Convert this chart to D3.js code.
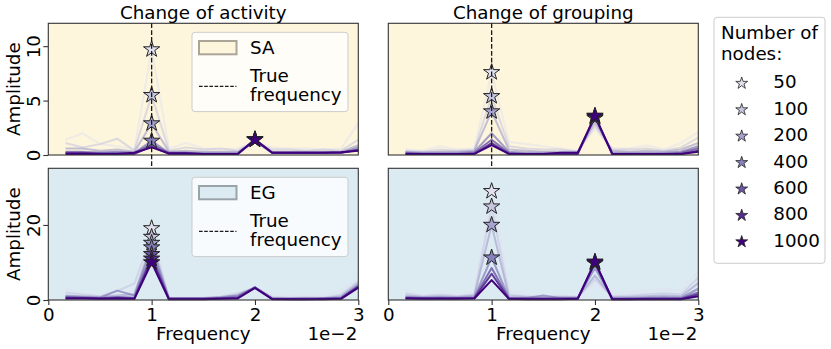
<!DOCTYPE html>
<html>
<head>
<meta charset="utf-8">
<script src="https://cdn.jsdelivr.net/npm/d3@7"></script>
<style>
  body { margin: 0; background: #fff; }
  svg { font-family: "DejaVu Sans", sans-serif; }
</style>
</head>
<body>
<svg id="svg" width="831" height="349"></svg>
<script>
// frequencies are in units of 1e-2
var freqs = [0.167, 0.333, 0.5, 0.667, 0.833, 1.0, 1.167, 1.333, 1.5, 1.667, 1.833, 2.0, 2.167, 2.333, 2.5, 2.667, 2.833, 3.0];
var nodes = [50, 100, 200, 400, 600, 800, 1000];
var xTicks = [0, 1, 2, 3];
var yTicksSA = [0, 5, 10];
var yTicksEG = [0, 20];
var yMaxSA = 12.1;
var yMaxEG = 35.1;
var trueFreq = 1;
var titles = ["Change of activity", "Change of grouping"];
var groupNames = ["SA", "EG"];

var saActivity = [
  [1.4, 2.0, 1.0, 0.8, 0.5, 9.7, 0.6, 1.1, 0.6, 0.5, 0.6, 1.2, 0.7, 0.6, 0.6, 0.5, 0.6, 2.9],
  [1.1, 0.7, 1.0, 1.5, 0.4, 5.5, 0.4, 0.7, 0.5, 0.6, 0.4, 1.2, 0.5, 0.5, 0.4, 0.5, 0.4, 1.4],
  [0.6, 0.6, 0.4, 0.5, 0.3, 2.9, 0.3, 0.4, 0.3, 0.3, 0.3, 1.25, 0.3, 0.3, 0.3, 0.3, 0.3, 0.9],
  [0.3, 0.3, 0.2, 0.3, 0.2, 1.3, 0.2, 0.2, 0.2, 0.2, 0.2, 1.25, 0.2, 0.2, 0.2, 0.2, 0.2, 0.7],
  [0.2, 0.2, 0.2, 0.2, 0.2, 1.0, 0.2, 0.2, 0.1, 0.1, 0.1, 1.4, 0.2, 0.2, 0.2, 0.2, 0.2, 0.5],
  [0.2, 0.2, 0.1, 0.1, 0.1, 0.8, 0.1, 0.1, 0.1, 0.1, 0.1, 1.45, 0.2, 0.2, 0.2, 0.2, 0.2, 0.45],
  [0.1, 0.1, 0.1, 0.1, 0.2, 0.7, 0.15, 0.15, 0.1, 0.1, 0.1, 1.4, 0.2, 0.2, 0.2, 0.2, 0.25, 0.4]
];
var saGrouping = [
  [0.5, 0.4, 0.8, 0.5, 0.6, 7.6, 1.2, 1.0, 0.8, 0.6, 0.4, 2.4, 0.6, 0.6, 0.9, 0.5, 1.1, 2.1],
  [0.4, 0.3, 0.5, 0.4, 0.5, 5.4, 0.8, 0.6, 0.5, 0.5, 0.3, 2.7, 0.5, 0.5, 0.6, 0.4, 0.7, 1.6],
  [0.3, 0.2, 0.3, 0.3, 0.4, 4.0, 0.5, 0.4, 0.3, 0.3, 0.3, 3.0, 0.4, 0.3, 0.4, 0.3, 0.5, 1.1],
  [0.2, 0.2, 0.2, 0.2, 0.3, 2.0, 0.3, 0.2, 0.2, 0.2, 0.2, 3.4, 0.2, 0.2, 0.2, 0.2, 0.3, 0.8],
  [0.2, 0.1, 0.1, 0.1, 0.2, 1.4, 0.2, 0.1, 0.1, 0.1, 0.1, 3.5, 0.1, 0.1, 0.1, 0.1, 0.2, 0.6],
  [0.1, 0.1, 0.1, 0.1, 0.1, 1.1, 0.1, 0.1, 0.1, 0.1, 0.1, 3.55, 0.1, 0.1, 0.1, 0.1, 0.1, 0.4],
  [0.1, 0.1, 0.1, 0.1, 0.1, 0.9, 0.1, 0.1, 0.1, 0.2, 0.2, 3.6, 0.1, 0.1, 0.1, 0.1, 0.1, 0.3]
];
var egActivity = [
  [3.0, 1.8, 1.0, 1.5, 2.6, 19.1, 0.8, 0.6, 0.6, 1.0, 1.5, 3.0, 1.5, 1.0, 1.2, 1.0, 2.5, 5.8],
  [2.0, 1.5, 1.0, 2.4, 4.4, 16.8, 0.6, 0.5, 0.6, 0.9, 1.8, 3.2, 0.8, 0.6, 0.7, 0.6, 1.5, 5.0],
  [1.2, 1.0, 0.8, 1.2, 1.5, 15.2, 0.5, 0.5, 0.5, 0.8, 1.3, 3.3, 0.5, 0.4, 0.5, 0.5, 1.0, 4.5],
  [1.0, 0.8, 0.6, 2.5, 1.2, 14.0, 0.4, 0.4, 0.4, 0.7, 1.2, 3.3, 0.4, 0.3, 0.4, 0.4, 0.7, 4.0],
  [0.8, 0.6, 0.5, 0.8, 0.6, 12.2, 0.3, 0.3, 0.3, 0.5, 0.8, 3.4, 0.3, 0.3, 0.3, 0.3, 0.5, 3.7],
  [0.5, 0.5, 0.4, 0.5, 0.4, 11.0, 0.3, 0.3, 0.3, 0.4, 0.6, 3.3, 0.3, 0.2, 0.2, 0.3, 0.4, 3.5],
  [0.4, 0.4, 0.3, 0.4, 0.3, 10.0, 0.2, 0.2, 0.2, 0.3, 0.4, 3.2, 0.2, 0.2, 0.2, 0.2, 0.3, 3.3]
];
var egGrouping = [
  [2.7, 1.2, 2.4, 1.3, 2.0, 29.0, 2.5, 1.5, 1.0, 1.2, 1.0, 4.5, 1.5, 2.0, 2.5, 2.9, 2.5, 7.5],
  [1.8, 1.0, 1.5, 1.0, 1.5, 24.9, 1.5, 1.0, 0.8, 1.0, 0.8, 5.5, 1.0, 1.2, 1.5, 1.8, 1.5, 6.0],
  [1.2, 0.8, 1.0, 0.8, 1.2, 20.0, 1.0, 0.8, 0.6, 0.8, 0.7, 6.5, 0.7, 0.8, 1.0, 1.2, 1.0, 4.5],
  [0.8, 0.6, 0.7, 0.6, 0.8, 11.3, 0.6, 0.5, 1.2, 0.5, 0.5, 8.5, 0.4, 0.5, 0.6, 0.7, 0.6, 3.0],
  [0.6, 0.5, 0.5, 0.5, 0.6, 8.5, 0.4, 0.4, 0.4, 0.4, 0.4, 9.8, 0.3, 0.3, 0.4, 0.4, 0.4, 2.0],
  [0.5, 0.4, 0.4, 0.4, 0.5, 7.0, 0.3, 0.3, 0.3, 0.3, 0.3, 10.0, 0.2, 0.2, 0.3, 0.3, 0.3, 1.5],
  [0.4, 0.3, 0.3, 0.3, 0.4, 5.3, 0.3, 0.2, 0.2, 0.2, 0.3, 10.2, 0.2, 0.2, 0.2, 0.2, 0.2, 1.0]
];

var svg = d3.select("#svg");
var fontSize = 18.3;
var panelW = 310, panelH = 131.7;
var colX = [48.3, 388.3];
var rowY = [23.3, 168.3];
var bgColors = ["#fdf5dc", "#dceaf2"];
var patchEdge = ["#aba597", "#9aa3a8"];

var colors = nodes.map(function (d, i) {
  return d3.interpolatePurples(0.2 + (0.8 * i) / (nodes.length - 1));
});
var opac = nodes.map(function (d, i) {
  return 0.5 + (0.5 * i) / (nodes.length - 1);
});

var panels = [
  { data: saActivity, row: 0, col: 0 },
  { data: saGrouping, row: 0, col: 1 },
  { data: egActivity, row: 1, col: 0 },
  { data: egGrouping, row: 1, col: 1 }
];

var xScale = d3.scaleLinear().domain([0, 3]).range([0, panelW]);
var yScales = [
  d3.scaleLinear().domain([0, yMaxSA]).range([panelH, 0]),
  d3.scaleLinear().domain([0, yMaxEG]).range([panelH, 0])
];
var yTicks = [yTicksSA, yTicksEG];
var star = d3.symbol().type(d3.symbolStar);

panels.forEach(function (p) {
  var yScale = yScales[p.row];
  var g = svg
    .append("g")
    .attr("transform", "translate(" + colX[p.col] + "," + rowY[p.row] + ")");

  g.append("rect")
    .attr("width", panelW)
    .attr("height", panelH)
    .attr("fill", bgColors[p.row]);

  var line = d3
    .line()
    .x(function (d, i) { return xScale(freqs[i]); })
    .y(function (d) { return yScale(d); });

  //lines
  g.selectAll("path.series")
    .data(p.data)
    .enter()
    .append("path")
    .attr("class", "series")
    .attr("d", line)
    .attr("fill", "none")
    .attr("stroke", function (d, i) { return colors[i]; })
    .attr("stroke-opacity", function (d, i) { return opac[i]; })
    .attr("stroke-width", 2)
    .attr("stroke-linejoin", "round");

  //true frequency (dashed), one per column spanning both rows
  if (p.row === 0) {
    svg
      .append("line")
      .attr("x1", colX[p.col] + xScale(trueFreq))
      .attr("x2", colX[p.col] + xScale(trueFreq))
      .attr("y1", rowY[0])
      .attr("y2", rowY[1] + panelH)
      .attr("stroke", "#1a1a1a")
      .attr("stroke-width", 1.3)
      .attr("stroke-dasharray", "4.8,2.1");
  }

  //stars at the maximum of each series
  g.selectAll("path.star")
    .data(p.data)
    .enter()
    .append("path")
    .attr("class", "star")
    .attr("d", star.size(82))
    .attr("transform", function (d) {
      var k = d3.maxIndex(d);
      return "translate(" + xScale(freqs[k]) + "," + yScale(d[k]) + ")";
    })
    .attr("fill", function (d, i) { return colors[i]; })
    .attr("stroke", "#222")
    .attr("stroke-width", 1);

  //frame
  g.append("rect")
    .attr("width", panelW)
    .attr("height", panelH)
    .attr("fill", "none")
    .attr("stroke", "#333")
    .attr("stroke-width", 1.1);

  //x-axis
  if (p.row === 1) {
    var xAxis = g
      .append("g")
      .attr("transform", "translate(0," + panelH + ")")
      .call(d3.axisBottom(xScale).tickValues(xTicks).tickFormat(d3.format("d")).tickSize(5).tickPadding(3));
    xAxis.select(".domain").remove();
    xAxis.selectAll("line").attr("stroke", "#333").attr("stroke-width", 1.1);
    xAxis.selectAll("text").attr("font-size", fontSize).attr("fill", "#000").attr("font-family", "DejaVu Sans");

    g.append("text")
      .attr("x", panelW / 2)
      .attr("y", panelH + 40)
      .attr("text-anchor", "middle")
      .attr("font-size", fontSize)
      .text("Frequency");
    g.append("text")
      .attr("x", panelW - 1)
      .attr("y", panelH + 40)
      .attr("text-anchor", "end")
      .attr("font-size", fontSize)
      .text("1e\u22122");
  }

  //y-axis
  if (p.col === 0) {
    var yAxis = g
      .append("g")
      .call(d3.axisLeft(yScale).tickValues(yTicks[p.row]).tickSize(5));
    yAxis.select(".domain").remove();
    yAxis.selectAll("line").attr("stroke", "#333").attr("stroke-width", 1.1);
    yAxis
      .selectAll("text")
      .attr("font-size", fontSize)
      .attr("fill", "#000")
      .attr("font-family", "DejaVu Sans")
      .attr("x", null)
      .attr("dy", null)
      .attr("text-anchor", "middle")
      .attr("transform", "translate(-8.3,0) rotate(-90)");

    g.append("text")
      .attr("transform", "translate(" + (19.8 - colX[0]) + "," + panelH / 2 + ") rotate(-90)")
      .attr("text-anchor", "middle")
      .attr("font-size", fontSize)
      .text("Amplitude");
  }

  //title
  if (p.row === 0) {
    svg
      .append("text")
      .attr("x", colX[p.col] + panelW / 2)
      .attr("y", 18.5)
      .attr("text-anchor", "middle")
      .attr("font-size", fontSize)
      .text(titles[p.col]);
  }

  //group legend (SA / EG)
  if (p.col === 0) {
    var lg = g.append("g").attr("transform", "translate(143.7,9)");
    lg.append("rect")
      .attr("width", 156)
      .attr("height", 79.3)
      .attr("rx", 3)
      .attr("fill", "#fff")
      .attr("fill-opacity", 0.8)
      .attr("stroke", "#ccc")
      .attr("stroke-width", 1);
    lg.append("rect")
      .attr("x", 7)
      .attr("y", 8.7)
      .attr("width", 37.5)
      .attr("height", 13.3)
      .attr("fill", bgColors[p.row])
      .attr("stroke", patchEdge[p.row])
      .attr("stroke-width", 2);
    lg.append("text")
      .attr("x", 58)
      .attr("y", 21.8)
      .attr("font-size", fontSize)
      .text(groupNames[p.row]);
    lg.append("line")
      .attr("x1", 7)
      .attr("x2", 44.5)
      .attr("y1", 54)
      .attr("y2", 54)
      .attr("stroke", "#1a1a1a")
      .attr("stroke-width", 1.2)
      .attr("stroke-dasharray", "3.6,1.6");
    lg.append("text")
      .attr("x", 58)
      .attr("y", 49.3)
      .attr("font-size", fontSize)
      .text("True");
    lg.append("text")
      .attr("x", 58)
      .attr("y", 68.5)
      .attr("font-size", fontSize)
      .text("frequency");
  }
});

//nodes legend
var nl = svg.append("g").attr("transform", "translate(714,17.3)");
nl.append("rect")
  .attr("width", 111)
  .attr("height", 246)
  .attr("rx", 3)
  .attr("fill", "#fff")
  .attr("stroke", "#ccc")
  .attr("stroke-width", 1);
nl.append("text").attr("x", 7).attr("y", 22).attr("font-size", fontSize).text("Number of");
nl.append("text").attr("x", 7).attr("y", 43).attr("font-size", fontSize).text("nodes:");

var rowScale = d3.scalePoint().domain(nodes).range([64.5, 223]);
var items = nl
  .selectAll("g.item")
  .data(nodes)
  .enter()
  .append("g")
  .attr("class", "item")
  .attr("transform", function (d) { return "translate(0," + rowScale(d) + ")"; });
items
  .append("path")
  .attr("d", star.size(44))
  .attr("transform", "translate(27.7,1.5)")
  .attr("fill", function (d, i) { return colors[i]; })
  .attr("stroke", "#222")
  .attr("stroke-width", 0.8);
items
  .append("text")
  .attr("x", 59.3)
  .attr("y", 0)
  .attr("dy", "0.36em")
  .attr("font-size", fontSize)
  .text(function (d) { return d; });
</script>
</body>
</html>
